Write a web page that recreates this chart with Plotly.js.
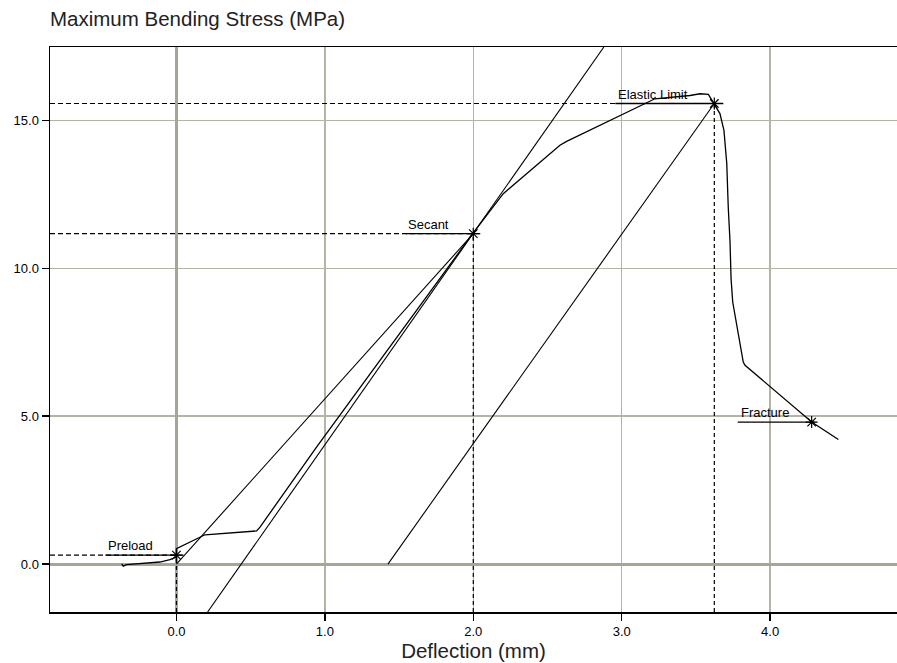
<!DOCTYPE html>
<html>
<head>
<meta charset="utf-8">
<script src="https://cdn.plot.ly/plotly-3.0.1.min.js"></script>
<style>html,body{margin:0;padding:0;background:#fff;}#chart{width:897px;height:663px;}</style>
</head>
<body>
<div id="chart"></div>
<script>
// Measured stress–deflection curve
const curveX = [-0.369, -0.358, -0.336, -0.111, -0.044, 0.0, 0.0, 0.192, 0.540, 0.563, 0.945, 1.996, 2.202, 2.584, 2.629, 3.224, 3.460, 3.528, 3.584, 3.624, 3.662, 3.689, 3.708, 3.718, 3.730, 3.737, 3.748, 3.819, 3.831, 4.280, 4.460];
const curveY = [0.01, -0.07, -0.02, 0.07, 0.15, 0.24, 0.52, 0.99, 1.12, 1.25, 3.96, 11.17, 12.52, 14.16, 14.29, 15.73, 15.84, 15.90, 15.88, 15.57, 15.23, 14.66, 13.54, 12.07, 10.89, 9.65, 8.86, 6.83, 6.72, 4.80, 4.21];

// Construction lines
const secantLineX = [0.0, 2.0];
const secantLineY = [0.0, 11.17];
const tangentLineX = [0.21, 2.88];
const tangentLineY = [-1.62, 17.48];
const offsetLineX = [1.425, 3.624];
const offsetLineY = [0.0, 15.57];

// Marked events
const eventNames = ['Preload', 'Secant', 'Elastic Limit', 'Fracture'];
const eventX = [0.0, 2.0, 3.624, 4.28];
const eventY = [0.30, 11.17, 15.57, 4.80];
const eventGuides = [true, true, true, false];

// Axes
const xRange = [-0.852, 4.855];
const yRange = [-1.62, 17.48];
const xTickVals = [0, 1, 2, 3, 4];
const xTickText = ['0.0', '1.0', '2.0', '3.0', '4.0'];
const yTickVals = [0, 5, 10, 15];
const yTickText = ['0.0', '5.0', '10.0', '15.0'];

// Label underline extents in pixels relative to each event point (style)
const underlineStyle = {left: [-71, -68, -99, -74], right: [7, 7, 9, 3]};

const lineStyle = {color: '#000', width: 1.1};

const traces = [
  {x: secantLineX, y: secantLineY, mode: 'lines', line: lineStyle, hoverinfo: 'skip', showlegend: false},
  {x: tangentLineX, y: tangentLineY, mode: 'lines', line: lineStyle, hoverinfo: 'skip', showlegend: false},
  {x: offsetLineX, y: offsetLineY, mode: 'lines', line: lineStyle, hoverinfo: 'skip', showlegend: false},
  {x: curveX, y: curveY, mode: 'lines', line: {color: '#000', width: 1.3}, showlegend: false},
  {x: eventX, y: eventY, mode: 'markers', marker: {symbol: 'asterisk-open', size: 10, color: '#000', line: {color: '#000', width: 1.2}}, text: eventNames, showlegend: false}
];

const shapes = [];
const annotations = [];
eventNames.forEach((name, i) => {
  if (eventGuides[i]) {
    shapes.push({type: 'line', xref: 'x', yref: 'y', x0: xRange[0], x1: eventX[i], y0: eventY[i], y1: eventY[i], line: {color: '#000', width: 1.2, dash: '5px,3px'}});
    shapes.push({type: 'line', xref: 'x', yref: 'y', x0: eventX[i], x1: eventX[i], y0: yRange[0], y1: eventY[i], line: {color: '#000', width: 1.2, dash: '4px,3px'}});
  }
  shapes.push({type: 'line', xref: 'x', yref: 'y', xsizemode: 'pixel', xanchor: eventX[i], x0: underlineStyle.left[i], x1: underlineStyle.right[i], y0: eventY[i], y1: eventY[i], line: {color: '#000', width: 1.3}});
  annotations.push({x: eventX[i], y: eventY[i], xref: 'x', yref: 'y', text: name, showarrow: false, xanchor: 'left', yanchor: 'bottom', xshift: underlineStyle.left[i] + 1, yshift: 0, font: {family: 'Arial, Liberation Sans, sans-serif', size: 13, color: '#000'}});
});

const layout = {
  width: 897, height: 663,
  margin: {l: 50, r: 0, t: 47, b: 51, pad: 0},
  paper_bgcolor: '#fff', plot_bgcolor: '#fff',
  font: {family: 'Arial, Liberation Sans, sans-serif', color: '#000'},
  title: {text: 'Maximum Bending Stress (MPa)', x: 50 / 897, xref: 'container', xanchor: 'left', y: 1 - 19 / 663, yref: 'container', yanchor: 'middle', font: {size: 20.5, color: '#222'}},
  xaxis: {
    range: xRange, tickvals: xTickVals, ticktext: xTickText,
    showgrid: true, gridcolor: '#b4b4a2', gridwidth: 1.5,
    zeroline: true, zerolinecolor: '#a6a694', zerolinewidth: 3,
    showline: true, linecolor: '#000', linewidth: 1.5, mirror: true,
    ticks: 'outside', ticklen: 7, tickcolor: '#000', tickwidth: 1.5,
    tickfont: {size: 13, color: '#000'},
    title: {text: 'Deflection (mm)', font: {size: 20.5, color: '#222'}, standoff: 2},
    fixedrange: true
  },
  yaxis: {
    range: yRange, tickvals: yTickVals, ticktext: yTickText,
    showgrid: true, gridcolor: '#b4b4a2', gridwidth: 1.5,
    zeroline: true, zerolinecolor: '#a6a694', zerolinewidth: 3,
    showline: true, linecolor: '#000', linewidth: 1.5, mirror: false,
    ticks: 'outside', ticklen: 7, tickcolor: '#000', tickwidth: 1.5,
    tickfont: {size: 13, color: '#000'},
    fixedrange: true
  },
  shapes: shapes,
  annotations: annotations,
  showlegend: false
};

Plotly.newPlot('chart', traces, layout, {displayModeBar: false, staticPlot: true});
</script>
</body>
</html>
